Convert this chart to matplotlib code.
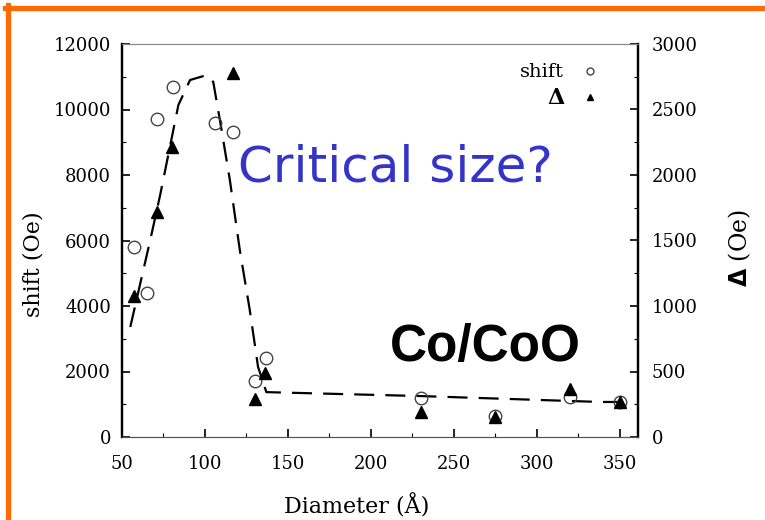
from matplotlib import pyplot as plt
from matplotlib.lines import Line2D
import numpy as np

# shift (left axis, Oe) vs particle diameter (A)
diam_shift = [57, 65, 71, 81, 106, 117, 130, 137, 230, 275, 320, 350]
shift = [5800, 4400, 9700, 10700, 9600, 9300, 1700, 2400, 1200, 650, 1220, 1080]

# Delta (right axis, Oe)
diam_delta = [57, 71, 80, 117, 130, 136, 230, 275, 320, 350]
delta = [1080, 1720, 2210, 2780, 290, 490, 190, 150, 370, 270]

# dashed guide to the eye (in shift units)
guide_d = [55, 67, 73, 84, 91, 101, 105, 109, 115, 121, 127, 132, 137, 230, 338, 358]
guide_y = [3360, 6010, 7390, 10140, 10900, 11050, 10840, 9680, 7850, 5710, 3880, 2140, 1370, 1250, 1070, 1070]

x_ticks = [50, 100, 150, 200, 250, 300, 350]
left_ticks = [0, 2000, 4000, 6000, 8000, 10000, 12000]
right_ticks = [0, 500, 1000, 1500, 2000, 2500, 3000]

SERIF = 'DejaVu Serif'
BLUE = '#3434C8'
ORANGE = '#FF6A00'

fig = plt.figure(figsize=(7.65, 5.2), dpi=100, facecolor='white')
ax = fig.add_axes([122 / 765, 1 - 437 / 520, 516 / 765, 393 / 520])
ax2 = ax.twinx()

ax.plot(guide_d, guide_y, color='black', lw=1.6, dashes=(9, 5), zorder=2)
ax.plot(diam_shift, shift, ls='none', marker='o', ms=9, mfc='none', mec='#444444',
        mew=1.0, zorder=3, label='shift')
ax2.plot(diam_delta, delta, ls='none', marker='^', ms=9, color='black', zorder=3,
         label='\u0394')

ax.set_xlim(50, 361)
ax.set_ylim(0, 12000)
ax2.set_ylim(0, 3000)

ax.set_xticks(x_ticks)
ax.set_xticks(np.arange(50, 361, 25), minor=True)
ax.set_yticks(left_ticks)
ax.set_yticks(np.arange(0, 12001, 1000), minor=True)
ax2.set_yticks(right_ticks)
ax2.set_yticks(np.arange(0, 3001, 250), minor=True)

for a in (ax, ax2):
    a.tick_params(which='major', direction='in', length=6, width=1.2, labelsize=13)
    a.tick_params(which='minor', direction='in', length=3, width=0.8)
    for lab in a.get_xticklabels() + a.get_yticklabels():
        lab.set_family(SERIF)
ax.tick_params(axis='x', pad=13)
ax.tick_params(axis='y', pad=8)
ax2.tick_params(axis='y', pad=10)

for a in (ax, ax2):
    a.spines['top'].set_color('#888888')
    a.spines['bottom'].set_color('#555555')
    a.spines['left'].set_linewidth(1.6)
    a.spines['right'].set_linewidth(1.6)

ax.set_ylabel('shift (Oe)', family=SERIF, fontsize=16)
ax.yaxis.set_label_coords(-0.15, 0.44)
ax.set_xlabel('Diameter (\u00c5)', family=SERIF, fontsize=16)
ax.xaxis.set_label_coords(0.455, -0.145)
ax2.set_ylabel('$\\mathbf{\\Delta}$ (Oe)', family=SERIF, fontsize=17, rotation=90)
ax2.yaxis.set_label_coords(1.172, 0.48)

handles = [Line2D([], [], ls='none', marker='o', ms=5, mfc='none', mec='#444444', mew=1.0),
           Line2D([], [], ls='none', marker='^', ms=5, color='black')]
leg = ax.legend(handles, ['shift', '\u0394'], loc='upper right', bbox_to_anchor=(0.955, 0.995),
                markerfirst=False, frameon=False, handlelength=0.8, handletextpad=0.9,
                labelspacing=0.3, prop={'family': SERIF, 'size': 14})
leg.get_texts()[1].set_fontsize(16)
leg.get_texts()[1].set_fontweight('bold')

fig.text(238 / 765, 1 - 168 / 520, 'Critical size?', color=BLUE, fontsize=36,
         family='DejaVu Sans', va='center', ha='left')
fig.text(485 / 765, 1 - 348 / 520, 'Co/CoO', color='black', fontsize=37,
         family='Liberation Sans', fontweight='bold', va='center', ha='center')

# orange slide frame
fig.add_artist(Line2D([5 / 765, 1], [1 - 7.5 / 520, 1 - 7.5 / 520], color=ORANGE, lw=3.8))
fig.add_artist(Line2D([7.5 / 765, 7.5 / 765], [0, 1 - 5 / 520], color=ORANGE, lw=3.8))

fig.savefig('out.png', dpi=100, facecolor='white')
